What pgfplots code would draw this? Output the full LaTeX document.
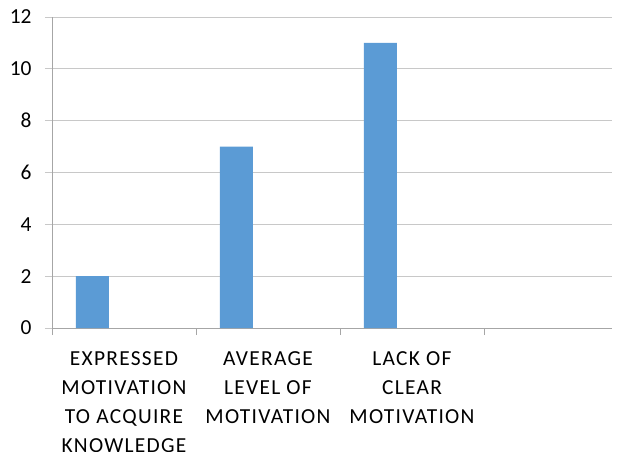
\documentclass[border=0pt]{standalone}
\usepackage{pgfplots}
\pgfplotsset{compat=1.18}
\usepackage{fontspec}
\setmainfont{Carlito}
\newfontfamily\lblfont[LetterSpace=6]{Carlito}
\definecolor{barblue}{HTML}{5B9BD5}
\definecolor{gridc}{HTML}{C8C8C8}
\definecolor{axisc}{HTML}{A6A6A6}
\begin{document}
\begin{tikzpicture}
\useasboundingbox (-52bp,-124bp) rectangle (565bp,328bp);
\begin{axis}[
  at={(0,0)}, anchor=south west,
  scale only axis, width=560bp, height=311bp,
  xmin=0, xmax=3.889, ymin=0, ymax=12,
  ytick={0,2,...,12},
  xtick={0,1,2,3},
  xticklabels={},
  extra x ticks={0.5,1.5,2.5},
  extra x tick labels={{EXPRESSED\\MOTIVATION\\TO ACQUIRE\\KNOWLEDGE},{AVERAGE\\LEVEL OF\\MOTIVATION},{LACK OF\\CLEAR\\MOTIVATION}},
  extra x tick style={grid=none, major tick length=0pt,
    tick label style={align=center, font=\lblfont\fontsize{21.5}{29}\selectfont, yshift=-20bp}},
  y tick label style={font=\fontsize{21.5}{24}\selectfont, xshift=-10bp},
  /pgf/number format/assume math mode=true,
  x tick style={draw=axisc, line width=0.9bp},
  tick align=outside,
  major tick length=7bp,
  y tick style={draw=gridc, line width=0.9bp},
  axis x line*=bottom, axis y line*=left,
  axis line style={draw=axisc, line width=0.9bp, -},
  ymajorgrids, major grid style={draw=gridc, line width=0.9bp},
  ybar, bar width=0.23,
]
\addplot[fill=barblue, draw=none] coordinates {(0.28,2) (1.28,7) (2.28,11)};
\end{axis}
\end{tikzpicture}
\end{document}
